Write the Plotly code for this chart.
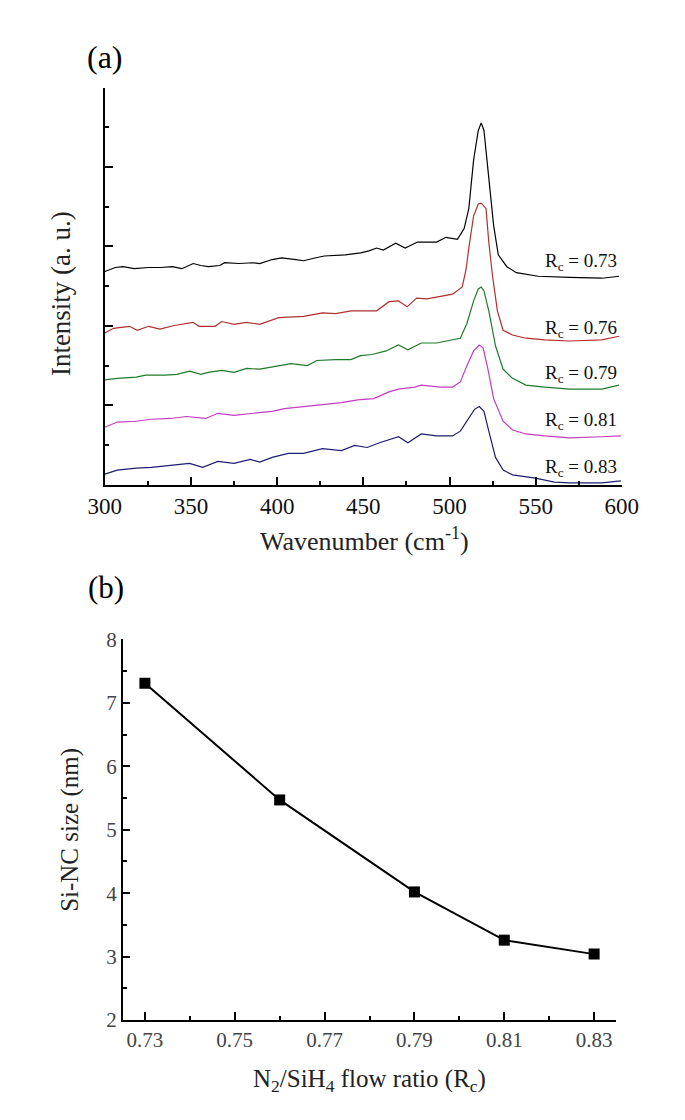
import plotly.graph_objects as go

# ---------------- (a) Raman spectra ----------------
wn_073 = [300, 306.1, 310.5, 317.1, 325.4, 332.5, 339.2, 344.7, 351.3, 355.7, 360.1, 366.7, 369.5, 377.8, 386,
          389.9, 397.1, 402.6, 410.9, 415.3, 421.9, 427.4, 439.5, 448.4, 453.3, 457.7, 461.6, 468.8, 474.3, 481.4,
          492.5, 498, 504.6, 508.5, 511.2, 514, 516.7, 518.4, 520, 522.8, 525.6, 528.3, 533.3, 538.8, 551.5,
          569.7, 588.4, 598.4]
int_073 = [5.37, 5.47, 5.49, 5.44, 5.47, 5.47, 5.49, 5.44, 5.57, 5.52, 5.49, 5.52, 5.59, 5.57, 5.59,
           5.57, 5.67, 5.71, 5.67, 5.64, 5.71, 5.76, 5.79, 5.84, 5.89, 5.96, 5.91, 6.08, 5.96, 6.11,
           6.11, 6.23, 6.18, 6.45, 6.95, 8.18, 8.92, 9.11, 8.92, 7.76, 6.53, 5.79, 5.49, 5.34, 5.25,
           5.22, 5.20, 5.25]

wn_076 = [300, 305, 314.3, 318.8, 325.4, 332, 340.3, 351.3, 354.6, 364, 367.8, 375, 382.2, 389.9, 400.9,
          415.3, 426.3, 434, 442.8, 457.7, 464.9, 470.4, 475.4, 480.9, 487, 494.7, 501.8, 507.4, 509.6, 511.2,
          514, 516.7, 518.4, 521.2, 522.8, 525, 527.8, 531.1, 536.6, 544.3, 555.3, 569.7, 588.4, 598.4]
int_076 = [3.82, 3.94, 3.99, 3.89, 3.99, 3.92, 4.01, 4.09, 3.99, 3.99, 4.11, 4.04, 4.09, 4.04, 4.21,
           4.24, 4.33, 4.31, 4.38, 4.38, 4.61, 4.63, 4.48, 4.70, 4.68, 4.75, 4.80, 4.98, 5.42, 5.96,
           6.77, 7.07, 7.09, 6.95, 6.11, 5.25, 4.38, 3.89, 3.77, 3.69, 3.65, 3.62, 3.65, 3.74]

wn_079 = [300, 307.2, 318.2, 323.7, 334.7, 341.9, 349.1, 355.7, 360.1, 367.8, 375, 382.2, 389.9, 397.1, 408.1,
          417.5, 423, 434, 442.8, 448.4, 455, 463.2, 470.4, 475.9, 483.6, 492.5, 501.8, 506.3, 510.1, 514,
          516.7, 518.4, 520, 522.8, 526.7, 531.1, 536.6, 544.3, 555.3, 569.7, 588.4, 598.4]
int_079 = [2.64, 2.68, 2.71, 2.76, 2.76, 2.78, 2.86, 2.78, 2.83, 2.88, 2.83, 2.93, 2.91, 2.96, 3.05,
           3.00, 3.13, 3.15, 3.15, 3.25, 3.28, 3.37, 3.52, 3.40, 3.57, 3.57, 3.65, 3.69, 4.06, 4.63,
           4.93, 4.98, 4.88, 4.38, 3.50, 2.91, 2.68, 2.51, 2.46, 2.41, 2.41, 2.51]

wn_081 = [300, 307.2, 318.2, 327, 338, 347.4, 358.5, 365.6, 375, 386, 397.1, 404.2, 415.3, 426.3, 437.3,
          446.7, 456.1, 464.9, 470.4, 479.8, 483.6, 494.7, 501.8, 506.3, 510.1, 514, 517.3, 519.5, 522.3, 525.6,
          531.1, 536.6, 544.3, 555.3, 569.7, 588.4, 599.5]
int_081 = [1.45, 1.58, 1.60, 1.65, 1.67, 1.72, 1.67, 1.80, 1.75, 1.80, 1.85, 1.92, 1.97, 2.02, 2.07,
           2.14, 2.17, 2.34, 2.41, 2.46, 2.51, 2.46, 2.46, 2.59, 3.00, 3.37, 3.52, 3.45, 2.91, 2.17,
           1.60, 1.38, 1.28, 1.23, 1.18, 1.21, 1.23]

wn_083 = [300, 307.2, 318.2, 327, 338, 349.1, 356.8, 365.6, 375, 384.4, 389.9, 397.1, 406.4, 415.3, 426.3,
          437.3, 445, 452.2, 459.4, 464.9, 470.4, 475.9, 483.6, 492.5, 501.8, 506.3, 511.2, 514.5, 517.3, 520,
          522.8, 526.7, 531.1, 536.6, 549.8, 560.9, 569.7, 588.4, 599.5]
int_083 = [0.27, 0.37, 0.42, 0.44, 0.49, 0.54, 0.44, 0.59, 0.54, 0.64, 0.57, 0.69, 0.79, 0.79, 0.91,
           0.86, 0.99, 0.94, 1.06, 1.13, 1.21, 1.06, 1.28, 1.23, 1.23, 1.35, 1.67, 1.90, 1.97, 1.85,
           1.35, 0.69, 0.37, 0.25, 0.17, 0.07, 0.05, 0.05, 0.10]

spectra_labels = ["0.73", "0.76", "0.79", "0.81", "0.83"]
spectra_x = [wn_073, wn_076, wn_079, wn_081, wn_083]
spectra_y = [int_073, int_076, int_079, int_081, int_083]
spectra_colors = ["#000000", "#b0302e", "#1f7a2a", "#c23cc2", "#1e1e70"]

# ---------------- (b) Si-NC size ----------------
flow_ratio = [0.73, 0.76, 0.79, 0.81, 0.83]
nc_size = [7.31, 5.47, 4.02, 3.26, 3.04]
ratio_ticks = [0.73, 0.75, 0.77, 0.79, 0.81, 0.83]
ratio_minor = [0.74, 0.76, 0.78, 0.80, 0.82]

for xs, ys in zip(spectra_x, spectra_y):
    assert len(xs) == len(ys)

W, H = 685, 1120
FONT = "Liberation Serif, Times New Roman, DejaVu Serif, serif"


def px(x):
    return x / W


def py(y):
    return 1 - y / H


def f(size, color="black"):
    return dict(family=FONT, size=size, color=color)


fig = go.Figure()
for xs, ys, col in zip(spectra_x, spectra_y, spectra_colors):
    fig.add_trace(go.Scatter(x=xs, y=ys, mode="lines", line=dict(color=col, width=1.2),
                             xaxis="x", yaxis="y", showlegend=False))

fig.add_trace(go.Scatter(x=flow_ratio, y=nc_size, mode="lines+markers",
                         line=dict(color="black", width=2),
                         marker=dict(symbol="square", size=11, color="black"),
                         xaxis="x2", yaxis="y2", showlegend=False))

axis_common = dict(showline=True, linecolor="black", linewidth=2, ticks="inside",
                   tickcolor="black", tickwidth=2, showgrid=False, zeroline=False, mirror=False)

fig.update_layout(
    width=W, height=H, autosize=False,
    margin=dict(l=0, r=0, t=0, b=0),
    paper_bgcolor="white", plot_bgcolor="white",
    font=f(16),
    xaxis=dict(domain=[px(84), px(628)], range=[300, 600], anchor="y",
               tickmode="linear", tick0=300, dtick=50, ticklen=8,
               tickfont=f(23, "#111"),
               minor=dict(ticks="inside", ticklen=4, tickwidth=1.5, tickcolor="black",
                          tickmode="linear", tick0=300, dtick=25),
               **axis_common),
    yaxis=dict(domain=[py(475), py(69)], range=[0, 10], anchor="x",
               tickmode="linear", tick0=0, dtick=2, ticklen=8, showticklabels=False,
               minor=dict(ticks="inside", ticklen=4, tickwidth=1.5, tickcolor="black",
                          tickmode="linear", tick0=0, dtick=1),
               **axis_common),
    xaxis2=dict(domain=[px(103), px(622)], range=[0.7251, 0.8349], anchor="y2",
                tickmode="array", tickvals=ratio_ticks, ticktext=[f"{v:.2f}" for v in ratio_ticks],
                ticklen=8, tickfont=f(21, "#444"),
                minor=dict(ticks="inside", ticklen=4, tickwidth=1.5, tickcolor="black",
                           tickmode="array", tickvals=ratio_minor),
                **axis_common),
    yaxis2=dict(domain=[py(1022), py(633)], range=[2, 8], anchor="x2",
                tickmode="linear", tick0=2, dtick=1, ticklen=7,
                tickfont=f(21, "#444"),
                minor=dict(ticks="inside", ticklen=4, tickwidth=1.5, tickcolor="black",
                           tickmode="linear", tick0=2, dtick=0.5),
                **axis_common),
)

ann = []
# panel letters
ann.append(dict(text="(a)", x=px(84), y=py(38), font=f(32)))
ann.append(dict(text="(b)", x=px(85), y=py(580), font=f(31)))
# axis titles
ann.append(dict(text="Wavenumber (cm<sup>-1</sup>)", x=px(357), y=py(531), font=f(26, "#222")))
ann.append(dict(text="Intensity (a. u.)", x=px(38), y=py(280), textangle=-90, font=f(27, "#222")))
ann.append(dict(text="Si-NC size (nm)", x=px(48), y=py(828), textangle=-90, font=f(25, "#222")))
ann.append(dict(text="N<sub>2</sub>/SiH<sub>4</sub> flow ratio (R<sub>c</sub>)", x=px(362), y=py(1084),
                font=f(25, "#222")))
# spectrum labels
label_y = [247, 316, 362, 410, 458]
for lab, yy in zip(spectra_labels, label_y):
    ann.append(dict(text=f"R<sub>c</sub> = {lab}", x=px(545), y=py(yy), xanchor="left",
                    font=f(19, "#111")))

for a in ann:
    a.setdefault("xanchor", "center")
    a.update(xref="paper", yref="paper", yanchor="middle", showarrow=False)
    fig.add_annotation(**a)

fig.write_html("out.html")
